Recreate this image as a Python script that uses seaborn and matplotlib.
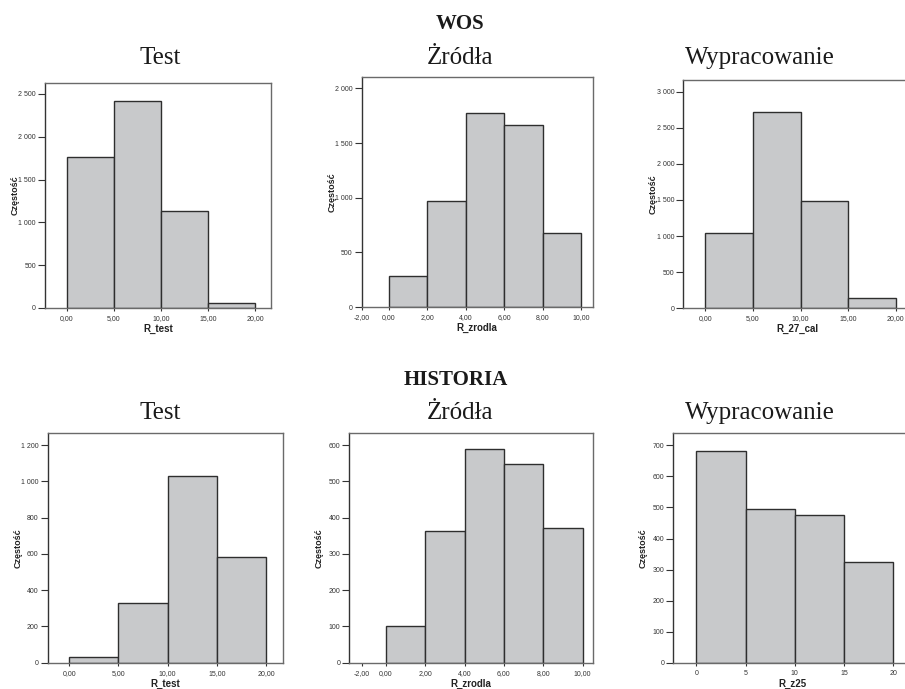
import numpy as np
import pandas as pd
import matplotlib
matplotlib.use("Agg")
import matplotlib.pyplot as plt
import seaborn as sns

sns.set_style("white")

# Bin edges
edges_20 = [0, 5, 10, 15, 20]
edges_10 = [0, 2, 4, 6, 8, 10]

# WOS counts
wos_test = [1767, 2414, 1137, 62]
wos_zrodla = [281, 972, 1778, 1668, 674]
wos_wyp = [1047, 2723, 1482, 138]

# HISTORIA counts
hist_test = [33, 328, 1030, 582]
hist_zrodla = [102, 364, 589, 549, 373]
hist_wyp = [682, 494, 476, 325]

titles = ["Test", "Żródła", "Wypracowanie"]
xlabels_wos = ["R_test", "R_zrodla", "R_27_cal"]
xlabels_hist = ["R_test", "R_zrodla", "R_z25"]

W, H = 905, 689
fig = plt.figure(figsize=(W / 100, H / 100), dpi=100)


def fmt_thousands(v):
    return f"{int(v):,}".replace(",", " ")


def panel(box, edges, counts, xlim, ylim, ystep, xticks, xticklabels, xlabel):
    left, top, right, bottom = box
    ax = fig.add_axes([left / W, 1 - bottom / H, (right - left) / W, (bottom - top) / H])
    centers = [(a + b) / 2 for a, b in zip(edges[:-1], edges[1:])]
    df = pd.DataFrame({"x": centers, "n": counts})
    sns.histplot(data=df, x="x", weights="n", bins=edges, ax=ax,
                 color="#c8c9cb", alpha=1, edgecolor="#2e2e2e", linewidth=1)
    ax.set_xlim(*xlim)
    ax.set_ylim(*ylim)
    yt = np.arange(0, ylim[1] + 1, ystep)
    ax.set_yticks(yt)
    ax.set_yticklabels([fmt_thousands(v) for v in yt])
    ax.set_xticks(xticks)
    ax.set_xticklabels(xticklabels)
    ax.tick_params(axis="y", length=5, width=0.8, pad=1.5, labelsize=5,
                   color="#333333", left=True, direction="out")
    ax.tick_params(axis="x", length=2.5, width=0.8, pad=2.5, labelsize=5,
                   color="#333333", bottom=True, direction="out")
    for lab in ax.get_xticklabels() + ax.get_yticklabels():
        lab.set_fontfamily("Liberation Sans")
        lab.set_color("#333333")
    for s in ax.spines.values():
        s.set_color("#6a6a6a")
        s.set_linewidth(1)
    ax.spines["left"].set_color("#333333")
    ax.set_xlabel(xlabel, fontsize=7, fontweight="bold", family="Liberation Sans", color="#222222")
    ax.set_ylabel("Częstość", fontsize=6.5, fontweight="bold", family="Liberation Sans", color="#222222")
    ax.xaxis.set_label_coords(0.5, -16 / (bottom - top))
    ax.yaxis.set_label_coords(-30 / (right - left), 0.5)
    ax.yaxis.label.set_va("center")
    ax.grid(False)
    return ax


lab20 = ["0,00", "5,00", "10,00", "15,00", "20,00"]
lab10 = ["-2,00", "0,00", "2,00", "4,00", "6,00", "8,00", "10,00"]

# WOS row
panel((45, 82.7, 271, 308), edges_20, wos_test, (-2.34, 21.7), (0, 2632), 500,
      edges_20, lab20, xlabels_wos[0])
panel((361.7, 77.3, 592.7, 307), edges_10, wos_zrodla, (-1.42, 10.59), (0, 2101), 500,
      [-1.42] + edges_10, lab10, xlabels_wos[1])
panel((683.3, 80, 912, 308.3), edges_20, wos_wyp, (-2.31, 21.7), (0, 3162), 500,
      edges_20, lab20, xlabels_wos[2])

# HISTORIA row
panel((47.7, 433.3, 282.7, 662.7), edges_20, hist_test, (-2.2, 21.7), (0, 1266), 200,
      edges_20, lab20, xlabels_hist[0])
panel((349.3, 433.3, 593.3, 662.7), edges_10, hist_zrodla, (-1.85, 10.54), (0, 633), 100,
      [-1.22] + edges_10, lab10, xlabels_hist[1])
panel((673.3, 433.3, 912, 662.7), edges_20, hist_wyp, (-2.33, 21.9), (0, 739), 100,
      edges_20, ["0", "5", "10", "15", "20"], xlabels_hist[2])

# Section headers and panel titles
serif = "Liberation Serif"
fig.text(460 / W, 1 - 29.3 / H, "WOS", ha="center", va="baseline",
         fontsize=15, fontweight="bold", family=serif, color="#1a1a1a")
fig.text(456 / W, 1 - 385 / H, "HISTORIA", ha="center", va="baseline",
         fontsize=15, fontweight="bold", family=serif, color="#1a1a1a")
for cx, t in zip([160, 460, 760], titles):
    fig.text(cx / W, 1 - 64 / H, t, ha="center", va="baseline",
             fontsize=18, family=serif, color="#1a1a1a")
    fig.text(cx / W, 1 - 419 / H, t, ha="center", va="baseline",
             fontsize=18, family=serif, color="#1a1a1a")

fig.savefig("out.png", dpi=100)
